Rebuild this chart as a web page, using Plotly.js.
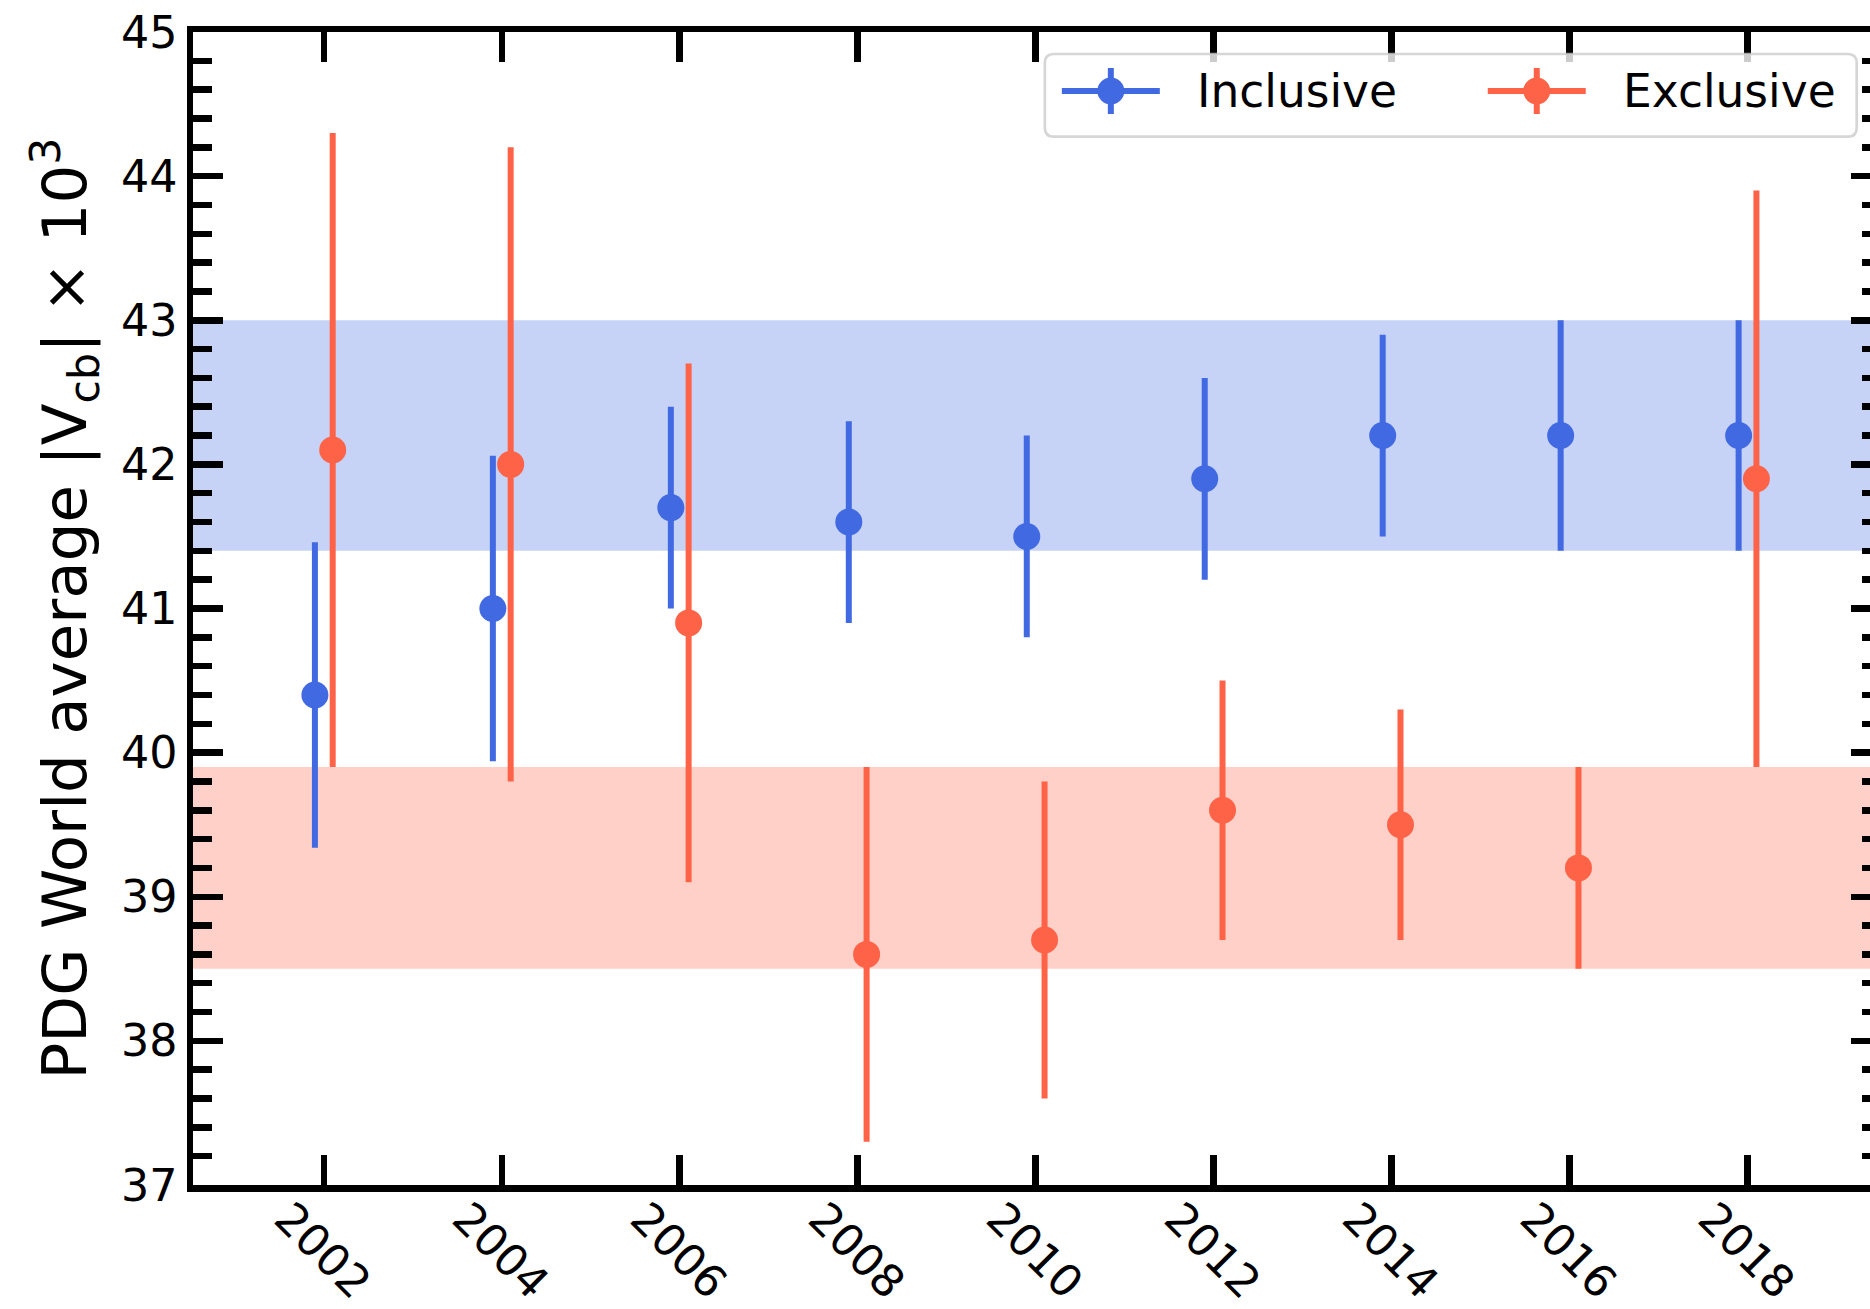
<!DOCTYPE html>
<html>
<head>
<meta charset="utf-8">
<script src="https://cdn.plot.ly/plotly-3.0.1.min.js"></script>
<style>
  html, body { margin: 0; padding: 0; background: #fff; overflow: hidden; }
  #chart { width: 1900px; height: 1309px; }
</style>
</head>
<body>
<div id="chart"></div>
<script>
// PDG world averages of |Vcb| (x 10^3): inclusive vs exclusive determinations
const editions = [2002, 2004, 2006, 2008, 2010, 2012, 2014, 2016, 2018];
const yearTickLabels = ['2002', '2004', '2006', '2008', '2010', '2012', '2014', '2016', '2018'];
const inclusiveValue = [40.4, 41.0, 41.7, 41.6, 41.5, 41.9, 42.2, 42.2, 42.2];
const inclusiveError = [1.06, 1.06, 0.7, 0.7, 0.7, 0.7, 0.7, 0.8, 0.8];
const exclusiveValue = [42.1, 42.0, 40.9, 38.6, 38.7, 39.6, 39.5, 39.2, 41.9];
const exclusiveError = [2.2, 2.2, 1.8, 1.3, 1.1, 0.9, 0.8, 0.7, 2.0];
const inclusiveBand = [41.4, 43.0];
const exclusiveBand = [38.5, 39.9];
const seriesNames = ['Inclusive', 'Exclusive'];

const BLUE = '#4169E1';   // royalblue
const RED = '#FF6347';    // tomato
const FONT = 'DejaVu Sans, Liberation Sans, sans-serif';

// Figure geometry (pixels)
const W = 1900, H = 1309;
const M = { l: 193, r: 18.7, t: 32, b: 124, pad: 0 };
const plotW = W - M.l - M.r;
const plotH = H - M.t - M.b;
const px = x => (x - M.l) / plotW;          // page px -> paper x
const py = y => (M.t + plotH - y) / plotH;  // page px -> paper y

// Side-by-side placement of the two series within each edition
const OFFSET = 0.1;

function series(values, errors, color, shift, name) {
  return {
    type: 'scatter',
    mode: 'markers',
    name: name,
    x: editions.map(e => e + shift),
    y: values,
    marker: { color: color, size: 27, line: { width: 0 } },
    error_y: { type: 'data', array: errors, visible: true, thickness: 6, width: 0, color: color },
    showlegend: false,
    hoverinfo: 'x+y'
  };
}

const traces = [
  series(inclusiveValue, inclusiveError, BLUE, -OFFSET, seriesNames[0]),
  series(exclusiveValue, exclusiveError, RED, OFFSET, seriesNames[1])
];

// Horizontal bands spanning the full width
const shapes = [
  { type: 'rect', xref: 'paper', yref: 'y', x0: 0, x1: 1, y0: inclusiveBand[0], y1: inclusiveBand[1],
    fillcolor: 'rgba(65,105,225,0.3)', line: { width: 0 }, layer: 'below' },
  { type: 'rect', xref: 'paper', yref: 'y', x0: 0, x1: 1, y0: exclusiveBand[0], y1: exclusiveBand[1],
    fillcolor: 'rgba(255,99,71,0.3)', line: { width: 0 }, layer: 'below' }
];

// Legend box (rounded frame, translucent white)
const box = { x0: 1045, y0: 54, x1: 1857, y1: 136.7, r: 9 };
const rr = [
  'M', px(box.x0 + box.r), py(box.y0),
  'L', px(box.x1 - box.r), py(box.y0),
  'Q', px(box.x1), py(box.y0), px(box.x1), py(box.y0 + box.r),
  'L', px(box.x1), py(box.y1 - box.r),
  'Q', px(box.x1), py(box.y1), px(box.x1 - box.r), py(box.y1),
  'L', px(box.x0 + box.r), py(box.y1),
  'Q', px(box.x0), py(box.y1), px(box.x0), py(box.y1 - box.r),
  'L', px(box.x0), py(box.y0 + box.r),
  'Q', px(box.x0), py(box.y0), px(box.x0 + box.r), py(box.y0),
  'Z'
];
let pathStr = '';
for (let i = 0; i < rr.length; i++) {
  const t = rr[i];
  if (typeof t === 'string') pathStr += t;
  else pathStr += t.toFixed(6) + (typeof rr[i + 1] === 'number' ? ',' : ' ');
}
shapes.push({ type: 'path', xref: 'paper', yref: 'paper', path: pathStr,
  fillcolor: 'rgba(255,255,255,0.8)', line: { color: 'rgba(204,204,204,0.8)', width: 2.7 }, layer: 'above' });

const annotations = [];
const legendEntries = [
  { name: seriesNames[0], color: BLUE, start: 1062 },
  { name: seriesNames[1], color: RED, start: 1488 }
];
const LY = 91;
legendEntries.forEach(en => {
  const mx = en.start + 49;
  shapes.push({ type: 'line', xref: 'paper', yref: 'paper', x0: px(en.start), x1: px(en.start + 98), y0: py(LY), y1: py(LY),
    line: { color: en.color, width: 6 }, layer: 'above' });
  shapes.push({ type: 'line', xref: 'paper', yref: 'paper', x0: px(mx), x1: px(mx), y0: py(LY - 23), y1: py(LY + 23),
    line: { color: en.color, width: 6 }, layer: 'above' });
  shapes.push({ type: 'circle', xref: 'paper', yref: 'paper', x0: px(mx - 13.5), x1: px(mx + 13.5), y0: py(LY - 13.5), y1: py(LY + 13.5),
    fillcolor: en.color, line: { width: 0 }, layer: 'above' });
  annotations.push({ xref: 'paper', yref: 'paper', x: px(en.start + 133), y: py(LY), xanchor: 'left', yanchor: 'middle',
    text: en.name, showarrow: false, font: { family: FONT, size: 45.5, color: '#000' } });
});

const axisCommon = {
  ticks: 'inside', ticklen: 30, tickwidth: 6.5, tickcolor: '#000',
  showline: true, linewidth: 6.5, linecolor: '#000', mirror: 'ticks',
  showgrid: false, zeroline: false,
  tickfont: { family: FONT, size: 44.4, color: '#000' }
};

const layout = {
  width: W, height: H,
  margin: M,
  paper_bgcolor: '#fff', plot_bgcolor: '#fff',
  showlegend: false,
  font: { family: FONT, color: '#000' },
  xaxis: Object.assign({}, axisCommon, {
    range: [2000.53, 2019.5],
    tickmode: 'array', tickvals: editions, ticktext: yearTickLabels,
    tickangle: 45,
    ticklabelshift: -36,
    ticklabelstandoff: -17
  }),
  yaxis: Object.assign({}, axisCommon, {
    range: [37, 45],
    tickmode: 'linear', tick0: 37, dtick: 1,
    minor: { ticks: 'inside', ticklen: 19, tickwidth: 6.5, tickcolor: '#000', dtick: 0.2, tick0: 37, showgrid: false },
    title: { text: 'PDG World average |V<sub>cb</sub>| \u00d7 10<sup>3</sup>', font: { family: FONT, size: 61, color: '#000' }, standoff: 17 }
  }),
  shapes: shapes,
  annotations: annotations
};

Plotly.newPlot('chart', traces, layout, { displayModeBar: false, staticPlot: true });
</script>
</body>
</html>
